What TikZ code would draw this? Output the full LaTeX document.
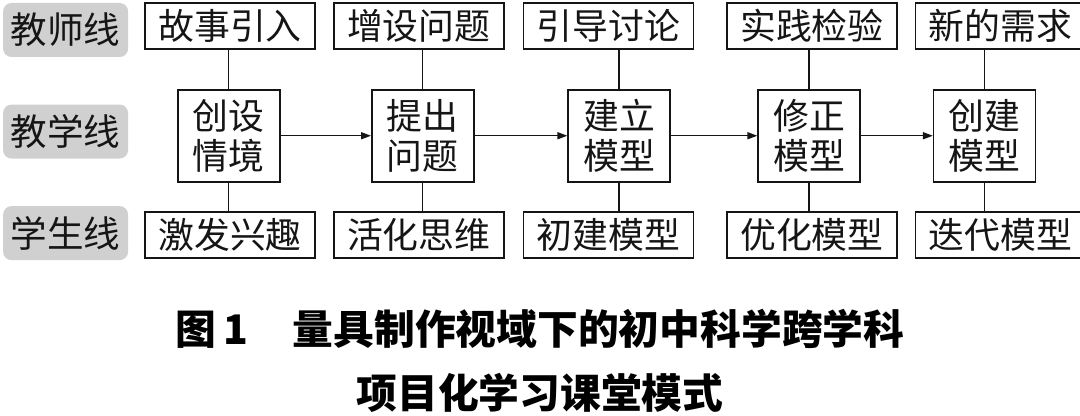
\documentclass[tikz,border=0pt]{standalone}
\usepackage{fontspec}
\usepackage{tikz}
\usetikzlibrary{arrows.meta, positioning, calc}
\newfontfamily\cjk{Noto Sans CJK SC}
\definecolor{inkprimary}{HTML}{151515}
\definecolor{rowgray}{HTML}{D0D0D0}

\begin{document}
\begin{tikzpicture}[
  rowlbl/.style={fill=rowgray, rounded corners=6pt, minimum width=3.125cm, minimum height=1.35cm, inner sep=0pt, text=inkprimary, font=\cjk\fontsize{26}{30}\selectfont},
  tbox/.style={draw=inkprimary, line width=1.1pt, minimum width=4.25cm, minimum height=1.15cm, inner sep=0pt, text=inkprimary, font=\cjk\fontsize{25.5}{30}\selectfont},
  mbox/.style={draw=inkprimary, line width=1.1pt, minimum width=2.55cm, minimum height=2.3cm, inner sep=0pt, align=center, text=inkprimary, font=\cjk\fontsize{25.5}{28.5}\selectfont},
  captxt/.style={text=black, font=\cjk\bfseries\fontsize{29}{34}\selectfont},
  link/.style={line width=0.9pt, draw=inkprimary},
  flow/.style={link, -{Triangle[length=7pt, width=5pt]}}
]
\useasboundingbox (0,0) rectangle (27,-10.4);

\node[rowlbl] (teachline) at (1.64,-0.75) {教师线};
\node[rowlbl, below=1.175cm of teachline] (lessonline) {教学线};
\node[rowlbl, below=1.175cm of lessonline] (studline) {学生线};

\node[tbox] (t1) at (5.75,-0.65) {故事引入};
\node[tbox, right=0.43cm of t1] (t2) {增设问题};
\node[tbox, right=0.45cm of t2] (t3) {引导讨论};
\node[tbox, right=0.8cm of t3] (t4) {实践检验};
\node[tbox, right=0.43cm of t4] (t5) {新的需求};

\node[mbox, below=0.98cm of t1, xshift=-0.03cm] (m1) {创设\\情境};
\node[mbox, below=0.98cm of t2, xshift=0.1cm] (m2) {提出\\问题};
\node[mbox, below=0.98cm of t3, xshift=0.27cm] (m3) {建立\\模型};
\node[mbox, below=0.98cm of t4, xshift=-0.07cm] (m4) {修正\\模型};
\node[mbox, below=0.98cm of t5, xshift=-0.4cm] (m5) {创建\\模型};

\node[tbox, below=4.03cm of t1] (s1) {激发兴趣};
\node[tbox, below=4.03cm of t2] (s2) {活化思维};
\node[tbox, below=4.03cm of t3] (s3) {初建模型};
\node[tbox, below=4.03cm of t4] (s4) {优化模型};
\node[tbox, below=4.03cm of t5] (s5) {迭代模型};

\foreach \i in {1,...,5}{
  \draw[link] (m\i.north) -- (m\i.north |- t\i.south);
  \draw[link] (m\i.south) -- (m\i.south |- s\i.north);
}
\draw[flow] (m1) -- (m2);
\draw[flow] (m2) -- (m3);
\draw[flow] (m3) -- (m4);
\draw[flow] (m4) -- (m5);

\node[captxt] (cap1) at (13.5,-8.22) {图\,1\hspace{1.1em}量具制作视域下的初中科学跨学科};
\node[captxt, below=0.38cm of cap1] (cap2) {项目化学习课堂模式};
\end{tikzpicture}
\end{document}
